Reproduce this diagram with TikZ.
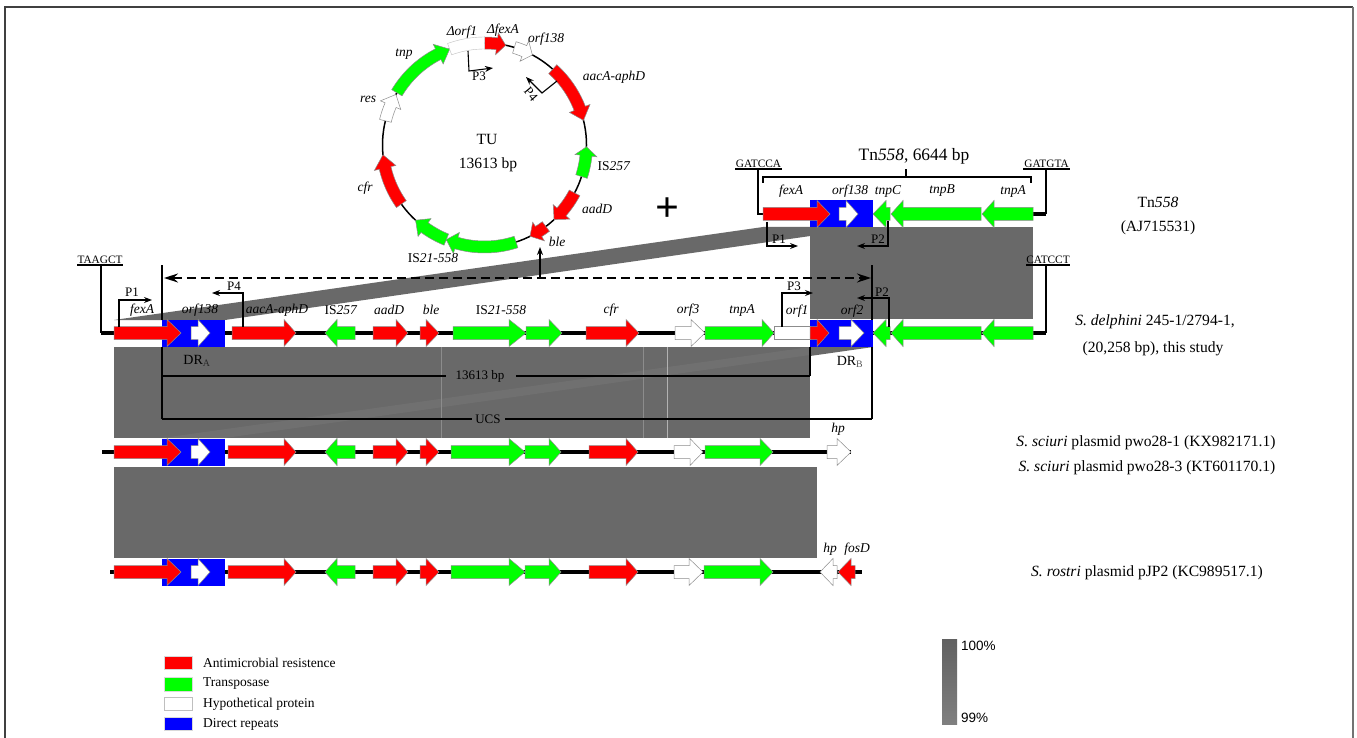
\documentclass[tikz,border=0pt]{standalone}
\usepackage{fontspec}
\setmainfont{Liberation Serif}
\newfontfamily\barfont{Liberation Sans}
\usetikzlibrary{arrows.meta}
\definecolor{gblock}{HTML}{696969}
\definecolor{gband}{HTML}{707070}
\definecolor{redg}{HTML}{FF0000}
\definecolor{greeng}{HTML}{00FF00}
\definecolor{blueg}{HTML}{0000FF}
\tikzset{
  lab/.style={font=\fontsize{13.5}{14}\selectfont\itshape,inner sep=0pt},
  txt/.style={font=\fontsize{13.5}{14}\selectfont,inner sep=0pt},
  side/.style={font=\fontsize{15.6}{16}\selectfont,inner sep=0pt},
  small/.style={font=\fontsize{13}{14}\selectfont,inner sep=0pt},
  seqlab/.style={font=\fontsize{11.3}{13}\selectfont,inner sep=0pt},
  backbone/.style={line width=3.4pt,black},
  thin line/.style={line width=1.2pt,black},
  promoter/.style={line width=1.1pt,black,-{Stealth[length=8pt,width=6pt]}},
  genesty/.style={draw=black!45,line width=.5pt},
}
% straight gene: tail, head-base, tip, centre y, colour
\newcommand{\gene}[5]{\filldraw[genesty,fill=#5] (#1,#4-6.5) -- (#2,#4-6.5) -- (#2,#4-13.5) -- (#3,#4) -- (#2,#4+13.5) -- (#2,#4+6.5) -- (#1,#4+6.5) -- cycle;}
% arc gene on the circle: tail, head-base, tip angle, colour
\newcommand{\arcgene}[4]{\filldraw[genesty,fill=#4] plot[smooth,domain=#1:#2,samples=16] ({484.5+108*cos(\x)},{145+108*sin(\x)}) -- ({484.5+113*cos(#2)},{145+113*sin(#2)}) -- ({484.5+102*cos(#3)},{145+102*sin(#3)}) -- ({484.5+91*cos(#2)},{145+91*sin(#2)}) -- plot[smooth,domain=#2:#1,samples=16] ({484.5+96*cos(\x)},{145+96*sin(\x)}) -- cycle;}
\newcommand{\repeatbox}[2]{\fill[blueg] (#1,#2-13.5) rectangle (#1+63,#2+13.5);}
\begin{document}
\begin{tikzpicture}[x=1pt,y=-1pt]
\useasboundingbox (0,0) rectangle (1357,738);
\fill[white] (0,0) rectangle (1357,738);
% frame
\draw[line width=1.2pt,black!75] (5,738) -- (5,7) -- (1353,7);
\draw[line width=1.6pt,black!55] (1353,7) -- (1353,738);

% grey homology blocks
\fill[gblock] (114,320) -- (225,320) -- (873,227) -- (763,227) -- cycle;
\fill[gblock] (810,227) rectangle (1033,319);
\fill[gblock] (114,347) rectangle (810,438);
\fill[gband] (810,347) -- (162,438) -- (225,438) -- (810,355) -- cycle;
\fill[gblock] (810,347) -- (873,347) -- (810,356) -- cycle;
\fill[gblock] (114,467) rectangle (817,558);
\draw[line width=.5pt,black!45] (441,347) -- (441,438);
\draw[line width=.5pt,black!45] (643,347) -- (643,438);
\draw[line width=.8pt,black!30] (667,347) -- (667,438);

% circle (TU)
\draw[line width=1.5pt,black] (484.5,145) circle[radius=102];
\arcgene{-90}{-83}{-78}{redg}
\arcgene{-73}{-67}{-62}{white}
\arcgene{-48}{-21}{-14}{redg}
\arcgene{18}{6}{1}{greeng}
\arcgene{28}{41}{47}{redg}
\arcgene{53}{58}{63.5}{redg}
\arcgene{72}{106}{112}{greeng}
\arcgene{112}{126}{132.5}{greeng}
\arcgene{144.6}{167}{174.5}{redg}
\arcgene{193.7}{203}{209.7}{white}
\arcgene{210.8}{243}{250}{greeng}
\filldraw[draw=black!25,line width=.4pt,fill=white] plot[smooth,domain=250:270,samples=10] ({484.5+108*cos(\x)},{145+108*sin(\x)}) -- plot[smooth,domain=270:250,samples=10] ({484.5+96*cos(\x)},{145+96*sin(\x)}) -- cycle;
\node[side] (tu) at (487,139) {TU};
\node[side] (tulen) at (488,165) {13613 bp};
\node[lab] (cdorf) at (462,32) {Δorf1};
\node[lab] (cdfex) at (503,30) {ΔfexA};
\node[lab] (corf) at (546,39) {orf138};
\node[lab] (caac) at (614,77) {aacA-aphD};
\node[txt] (cis) at (614,166) {IS\textit{257}};
\node[lab] (caad) at (597,209) {aadD};
\node[lab] (cble) at (557,242) {ble};
\node[txt] (cis2) at (433,258) {IS\textit{21-558}};
\node[lab] (ccfr) at (365,188) {cfr};
\node[lab] (cres) at (368,99) {res};
\node[lab] (ctnp) at (404,54) {tnp};
\draw[promoter] (468,51) -- (469,71) -- (493,68);
\node[small] (cp3) at (479,76) {P3};
\draw[promoter] (557,81) -- (542,93) -- (526,77);
\node[small,rotate=-50] (cp4) at (531,94) {P4};
\node[font=\fontsize{42}{42}\selectfont\bfseries,inner sep=0pt] (plus) at (667,210) {+};

% Tn558 row
\coordinate (gatccaL) at (735,169); \coordinate (gatccaR) at (782,169);
\coordinate (gatgtaL) at (1023,169); \coordinate (gatgtaR) at (1070,169);
\draw[thin line] (gatccaL) -- (gatccaR);
\draw[thin line] (gatgtaL) -- (gatgtaR);
\node[seqlab,anchor=south] (gatcca) at (758.5,168) {GATCCA};
\node[seqlab,anchor=south] (gatgta) at (1046.5,168) {GATGTA};
\draw[line width=1.4pt] (758,169) -- (758,214) -- (763,214);
\draw[backbone] (1033,214) -- (1046,214);
\draw[line width=1.4pt] (1046,214) -- (1046,169);
\draw[thin line] (763,183) -- (763,177) -- (1031,177) -- (1031,183);
\draw[thin line] (906,177) -- (906,169);
\node[font=\fontsize{17.4}{17.4}\selectfont,inner sep=0pt] (tntitle) at (914,156) {Tn\textit{558}, 6644 bp};
\repeatbox{810}{213.5}
\gene{763}{817}{830}{214}{redg}
\gene{839}{846}{858}{214}{white}
\gene{890}{886}{873}{214}{greeng}
\gene{981}{903}{891}{214}{greeng}
\gene{1033}{994}{982}{214}{greeng}
\node[lab] (afex) at (791,191) {fexA};
\node[lab] (aorf) at (850,191) {orf138};
\node[lab] (atnpc) at (888,191) {tnpC};
\node[lab] (atnpb) at (942,191) {tnpB};
\node[lab] (atnpa) at (1013,191) {tnpA};
\draw[promoter] (767,222) -- (767,246) -- (798,246);
\node[small] (ap1) at (779,239) {P1};
\draw[promoter] (888,221) -- (888,246) -- (857,246);
\node[small] (ap2) at (878,239) {P2};

% delphini row
\draw[backbone] (101,333) -- (1046,333);
\coordinate (taaL) at (77,265); \coordinate (taaR) at (123,265);
\coordinate (catL) at (1026,265); \coordinate (catR) at (1070,265);
\draw[thin line] (taaL) -- (taaR);
\draw[thin line] (catL) -- (catR);
\node[seqlab,anchor=south] (taagct) at (100,264) {TAAGCT};
\node[seqlab,anchor=south] (catcct) at (1048,264) {CATCCT};
\draw[line width=1.4pt] (101,265) -- (101,333);
\draw[line width=1.4pt] (1046,265) -- (1046,333);
\repeatbox{162}{333.5}
\repeatbox{810}{333.5}
\gene{114}{167}{181}{333}{redg}
\gene{191}{198}{210}{333}{white}
\gene{232}{284}{296}{333}{redg}
\gene{355}{337}{325}{333}{greeng}
\gene{373}{396}{408}{333}{redg}
\gene{420}{426}{439}{333}{redg}
\gene{453}{509}{526}{333}{greeng}
\gene{526}{549}{562}{333}{greeng}
\gene{586}{626}{639}{333}{redg}
\gene{675}{691}{705}{333}{white}
\gene{705}{762}{774}{333}{greeng}
\filldraw[genesty,fill=white] (774,326.5) rectangle (810,339.5);
\gene{810}{817}{829}{333}{redg}
\gene{839}{851}{864}{333}{white}
\gene{890}{886}{873}{333}{greeng}
\gene{981}{903}{891}{333}{greeng}
\gene{1033}{994}{982}{333}{greeng}
\node[lab] (bfex) at (142,310) {fexA};
\node[lab] (borf) at (200,310) {orf138};
\node[lab] (baac) at (277,310) {aacA-aphD};
\node[txt] (bis) at (341,310) {IS\textit{257}};
\node[lab] (baad) at (389,310) {aadD};
\node[lab] (bble) at (431,310) {ble};
\node[txt] (bis2) at (501,310) {IS\textit{21-558}};
\node[lab] (bcfr) at (611,310) {cfr};
\node[lab] (borf3) at (688,310) {orf3};
\node[lab] (btnpa) at (742,310) {tnpA};
\node[lab] (borf1) at (797,311) {orf1};
\node[lab] (borf2) at (852,311) {orf2};
\draw[promoter] (119,327) -- (119,300) -- (152,300);
\node[small] (bp1) at (132,292) {P1};
\draw[promoter] (243,327) -- (243,293) -- (212,293);
\node[small] (bp4) at (234,286) {P4};
\draw[promoter] (782,327) -- (782,293) -- (813,293);
\node[small] (bp3) at (794,286) {P3};
\draw[promoter] (889,327) -- (889,298) -- (857,298);
\node[small] (bp2) at (882,292) {P2};

% TU/UCS lines and excision arrows
\draw[line width=1.2pt] (162,265) -- (162,320);
\draw[line width=1.2pt] (162,347) -- (162,419);
\draw[line width=1.2pt] (872,265) -- (872,320);
\draw[line width=1.2pt] (872,347) -- (872,419);
\draw[line width=1.2pt] (810,347) -- (810,376);
\node[small] (len) at (480,376) {13613 bp};
\draw[line width=1.2pt] (162,376) -- (446,376);
\draw[line width=1.2pt] (516,376) -- (810,376);
\node[small] (ucs) at (488,419) {UCS};
\draw[line width=1.2pt] (162,419) -- (472,419);
\draw[line width=1.2pt] (505,419) -- (872,419);
\draw[line width=1.4pt,dash pattern=on 9pt off 5pt,{Stealth[length=14pt,width=9pt]}-{Stealth[length=14pt,width=9pt]}] (164,278) -- (871,278);
\coordinate (upbase) at (540,278); \coordinate (uptip) at (540,247);
\draw[line width=1.2pt,-{Stealth[length=8pt,width=6pt]}] (upbase) -- (uptip);
\node[font=\fontsize{14}{14}\selectfont,inner sep=0pt] (dra) at (197,361) {DR\textsubscript{\color{black!85}A}};
\node[font=\fontsize{14}{14}\selectfont,inner sep=0pt] (drb) at (850,362) {DR\textsubscript{\color{black!65}B}};

% row 3
\draw[backbone] (102,452) -- (851,452);
\repeatbox{162}{452.5}
\gene{114}{167}{181}{452}{redg}
\gene{191}{198}{210}{452}{white}
\gene{228}{284}{296}{452}{redg}
\gene{355}{337}{325}{452}{greeng}
\gene{373}{396}{408}{452}{redg}
\gene{420}{426}{439}{452}{redg}
\gene{451}{509}{525}{452}{greeng}
\gene{525}{549}{561}{452}{greeng}
\gene{589}{626}{638}{452}{redg}
\gene{674}{690}{703}{452}{white}
\gene{705}{760}{773}{452}{greeng}
\gene{827}{837}{851}{452}{white}
\node[lab] (chp) at (838,429) {hp};

% row 4
\draw[backbone] (110,572) -- (862,572);
\repeatbox{162}{572.5}
\gene{114}{167}{181}{572}{redg}
\gene{191}{198}{210}{572}{white}
\gene{228}{284}{296}{572}{redg}
\gene{355}{337}{325}{572}{greeng}
\gene{373}{396}{408}{572}{redg}
\gene{420}{426}{439}{572}{redg}
\gene{451}{509}{525}{572}{greeng}
\gene{525}{549}{561}{572}{greeng}
\gene{589}{626}{638}{572}{redg}
\gene{674}{689}{703}{572}{white}
\gene{704}{760}{773}{572}{greeng}
\gene{837}{833}{820}{572}{white}
\gene{855}{851}{838}{572}{redg}
\node[lab] (dhp) at (830,549) {hp};
\node[lab] (dfos) at (857,549) {fosD};

% right-hand labels
\node[side] (n1) at (1158,202) {Tn\textit{558}};
\node[side] (n2) at (1158,228) {(AJ715531)};
\node[side] (n3) at (1155,322) {\textit{S. delphini} 245-1/2794-1,};
\node[side] (n4) at (1153,349) {(20,258 bp), this study};
\node[side] (n5) at (1146,442.5) {\textit{S. sciuri} plasmid pwo28-1 (KX982171.1)};
\node[side] (n6) at (1147,467.5) {\textit{S. sciuri} plasmid pwo28-3 (KT601170.1)};
\node[side] (n7) at (1147,572.5) {\textit{S. rostri} plasmid pJP2 (KC989517.1)};

% legend
\filldraw[draw=black!15,fill=redg] (164,656) rectangle (192,669);
\filldraw[draw=black!15,fill=greeng] (164,677) rectangle (192,691);
\filldraw[draw=black!25,fill=white] (164,697) rectangle (192,710);
\filldraw[draw=black!15,fill=blueg] (164,717) rectangle (192,730);
\node[txt,anchor=west] (l1) at (203,663) {Antimicrobial resistence};
\node[txt,anchor=west] (l2) at (203,684) {Transposase};
\node[txt,anchor=west] (l3) at (203,704) {Hypothetical protein};
\node[txt,anchor=west] (l4) at (203,724) {Direct repeats};

% scale bar
\shade[top color=black!62,bottom color=black!50] (942,639) rectangle (957,724);
\node[font=\barfont\fontsize{13.5}{15}\selectfont,anchor=west,inner sep=0pt] (sc1) at (961,646) {100\%};
\node[font=\barfont\fontsize{13.5}{15}\selectfont,anchor=west,inner sep=0pt] (sc2) at (961,718) {99\%};
\end{tikzpicture}
\end{document}
